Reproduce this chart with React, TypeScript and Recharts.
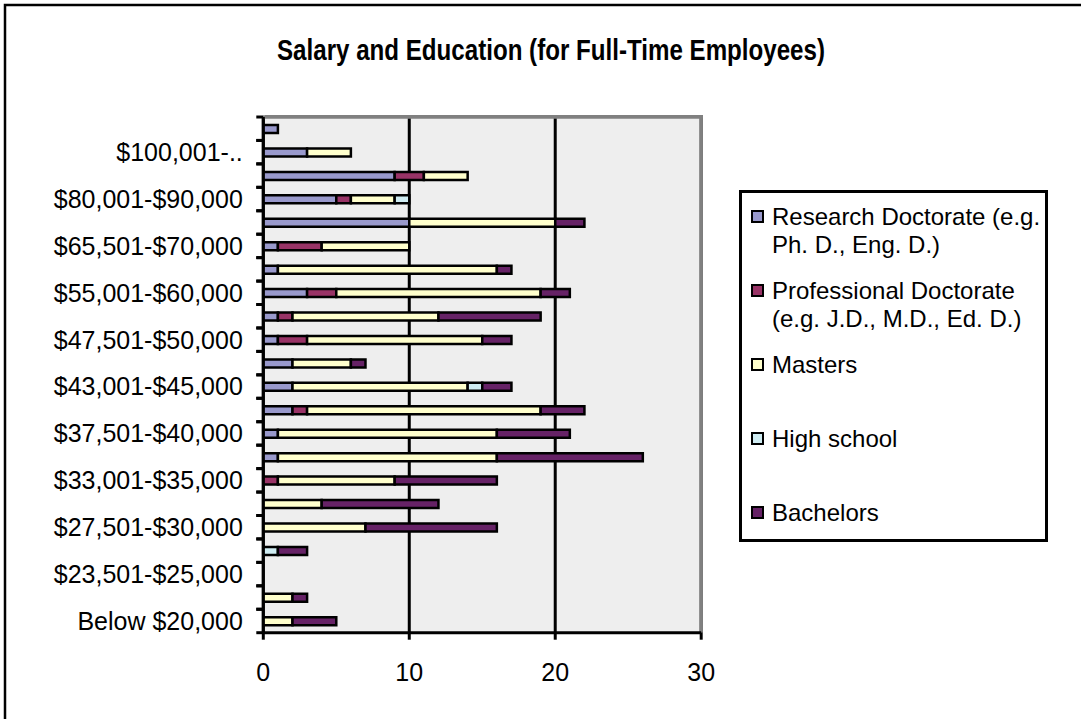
import React from 'react';
import { BarChart, Bar, XAxis, YAxis, CartesianGrid, ReferenceLine, Legend } from 'recharts';

// rows run bottom to top (the y axis is reversed)
const CATEGORIES = [
  'Below $20,000',
  '$20,000-$23,500',
  '$23,501-$25,000',
  '$25,001-$27,500',
  '$27,501-$30,000',
  '$30,001-$33,000',
  '$33,001-$35,000',
  '$35,001-$37,500',
  '$37,501-$40,000',
  '$40,001-$43,000',
  '$43,001-$45,000',
  '$45,001-$47,500',
  '$47,501-$50,000',
  '$50,001-$55,000',
  '$55,001-$60,000',
  '$60,001-$65,500',
  '$65,501-$70,000',
  '$70,001-$80,000',
  '$80,001-$90,000',
  '$90,001-$100,000',
  '$100,001-$120,000',
  'Over $120,000',
];

const RESEARCH = [0, 0, 0, 0, 0, 0, 0, 1, 1, 2, 2, 2, 1, 1, 3, 1, 1, 10, 5, 9, 3, 1];
const PROFESSIONAL = [0, 0, 0, 0, 0, 0, 1, 0, 0, 1, 0, 0, 2, 1, 2, 0, 3, 0, 1, 2, 0, 0];
const MASTERS = [2, 2, 0, 0, 7, 4, 8, 15, 15, 16, 12, 4, 12, 10, 14, 15, 6, 10, 3, 3, 3, 0];
const HIGH_SCHOOL = [0, 0, 0, 1, 0, 0, 0, 0, 0, 0, 1, 0, 0, 0, 0, 0, 0, 0, 1, 0, 0, 0];
const BACHELORS = [3, 1, 0, 2, 9, 8, 7, 10, 5, 3, 2, 1, 2, 7, 2, 1, 0, 2, 0, 0, 0, 0];

const X_TICKS = [0, 10, 20, 30];

const SERIES = [
  { key: 'research', name: 'Research Doctorate (e.g. Ph. D., Eng. D.)', color: '#9999CC' },
  { key: 'professional', name: 'Professional Doctorate (e.g. J.D., M.D., Ed. D.)', color: '#993366' },
  { key: 'masters', name: 'Masters', color: '#FFFFCC' },
  { key: 'highSchool', name: 'High school', color: '#CFECF2' },
  { key: 'bachelors', name: 'Bachelors', color: '#662266' },
];

const data = CATEGORIES.map((salary, i) => ({
  salary,
  research: RESEARCH[i],
  professional: PROFESSIONAL[i],
  masters: MASTERS[i],
  highSchool: HIGH_SCHOOL[i],
  bachelors: BACHELORS[i],
}));

const FONT = "'Liberation Sans', Arial, sans-serif";
const Y_TICK_SIZE = 7;
const Y_TICK_MARGIN = 13.5;
const PLOT_HEIGHT = 515.7;

const shortLabel = (v: string) => (v.length > 15 ? v.slice(0, 9) + '..' : v);

// Excel style: labels on every other row, tick marks on the row boundaries
function CategoryTick(props: any) {
  const { x, y, payload, index } = props;
  const h = props.height && props.height > 100 ? props.height : PLOT_HEIGHT;
  const half = h / CATEGORIES.length / 2;
  const x0 = x + Y_TICK_MARGIN;
  const x1 = x0 + Y_TICK_SIZE;
  return (
    <g>
      <line x1={x0} x2={x1} y1={y - half} y2={y - half} stroke="#000" strokeWidth={3} />
      <line x1={x0} x2={x1} y1={y + half} y2={y + half} stroke="#000" strokeWidth={3} />
      {index % 2 === 0 && (
        <text x={x} y={y} dy="0.355em" textAnchor="end" fontSize={25} fontFamily={FONT} fill="#000">
          {shortLabel(payload.value)}
        </text>
      )}
    </g>
  );
}

const seriesOrder = (v: string) => SERIES.findIndex((s) => s.name === v);

function LegendBox({ payload }: any) {
  const items = [...(payload ?? [])].sort((a: any, b: any) => seriesOrder(a.value) - seriesOrder(b.value));
  return (
    <div
      style={{
        boxSizing: 'border-box',
        width: 309,
        height: 352,
        border: '3px solid #000',
        background: '#fff',
        padding: '9.5px 0 0 9px',
        fontFamily: FONT,
        fontSize: 24,
        color: '#000',
      }}
    >
      {items.map((item: any, i: number) => (
        <div
          key={item.value}
          style={{ display: 'flex', alignItems: 'flex-start', height: i < items.length - 1 ? 74 : 28.5 }}
        >
          <span
            style={{
              boxSizing: 'border-box',
              width: 13,
              height: 13,
              marginTop: 7.75,
              border: '2px solid #000',
              background: item.color,
              flex: 'none',
            }}
          />
          <span style={{ marginLeft: 8, width: 272, lineHeight: '28.5px' }}>{item.value}</span>
        </div>
      ))}
    </div>
  );
}

export default function App() {
  return (
    <div style={{ position: 'fixed', left: 0, top: 0, width: 1081, height: 719, background: '#fff' }}>
      <BarChart
        width={1081}
        height={719}
        data={data}
        layout="vertical"
        barSize={8}
        margin={{ top: 116, right: 379.8, bottom: 36.3, left: 0 }}
      >
        <CartesianGrid horizontal={false} fill="#EEEEEE" stroke="#000" strokeWidth={3} />
        {/* grey frame of the plot area: right edge here, top edge is the top axis line */}
        <ReferenceLine x={30} stroke="#808080" strokeWidth={3.5} ifOverflow="visible" />
        {SERIES.map((s) => (
          <Bar
            key={s.key}
            dataKey={s.key}
            name={s.name}
            stackId="a"
            fill={s.color}
            stroke="#000"
            strokeWidth={2.5}
            isAnimationActive={false}
          />
        ))}
        <XAxis
          xAxisId="frame"
          orientation="top"
          type="number"
          domain={[0, 30]}
          height={1}
          tick={false}
          tickLine={false}
          axisLine={{ stroke: '#808080', strokeWidth: 3.5 }}
        />
        <XAxis
          type="number"
          domain={[0, 30]}
          ticks={X_TICKS}
          height={50}
          tickSize={7}
          tickMargin={24}
          axisLine={{ stroke: '#000', strokeWidth: 3 }}
          tickLine={{ stroke: '#000', strokeWidth: 3 }}
          tick={{ fontSize: 25, fill: '#000', fontFamily: FONT }}
        />
        <YAxis
          type="category"
          dataKey="salary"
          reversed
          width={263.3}
          interval={0}
          tickSize={Y_TICK_SIZE}
          tickMargin={Y_TICK_MARGIN}
          axisLine={{ stroke: '#000', strokeWidth: 3 }}
          tickLine={{ stroke: 'none' }}
          tick={<CategoryTick />}
        />
        <Legend
          layout="vertical"
          align="center"
          verticalAlign="middle"
          content={<LegendBox />}
          wrapperStyle={{ left: 739, top: 190, width: 309, height: 352 }}
        />
      </BarChart>
      <svg
        width={1081}
        height={719}
        style={{ position: 'absolute', left: 0, top: 0, pointerEvents: 'none' }}
      >
        <path d="M5 719 V5 H1081" fill="none" stroke="#000" strokeWidth={2.5} />
        <path d="M265 116.5 H703" fill="none" stroke="#808080" strokeWidth={3} />
        <text
          x={277}
          y={60}
          fontSize={29}
          fontWeight="bold"
          fontFamily="'Liberation Sans Narrow', 'Liberation Sans', Arial, sans-serif"
          textLength={548}
          lengthAdjust="spacingAndGlyphs"
          fill="#000"
        >
          Salary and Education (for Full-Time Employees)
        </text>
      </svg>
    </div>
  );
}
